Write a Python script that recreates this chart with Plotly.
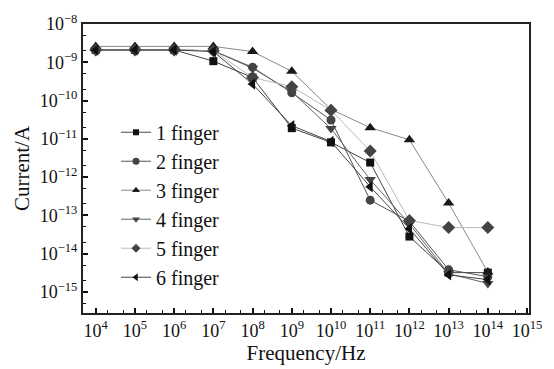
import plotly.graph_objects as go

freq = [1e4, 1e5, 1e6, 1e7, 1e8, 1e9, 1e10, 1e11, 1e12, 1e13, 1e14]
f1 = [2.1e-9, 2.1e-9, 2.1e-9, 1.07e-9, 4.0e-10, 1.9e-11, 8.1e-12, 2.4e-12, 2.8e-14, 3.2e-15, 3.2e-15]
f2 = [2.1e-9, 2.1e-9, 2.1e-9, 2.0e-9, 7.4e-10, 1.6e-10, 3.1e-11, 2.5e-13, 7.0e-14, 3.8e-15, 2.5e-15]
f3 = [2.6e-9, 2.6e-9, 2.6e-9, 2.6e-9, 1.9e-9, 5.8e-10, 5.9e-11, 1.96e-11, 9.4e-12, 2.1e-13, 3.3e-15]
f4 = [2.1e-9, 2.1e-9, 2.1e-9, 2.0e-9, 7.0e-10, 1.7e-10, 1.85e-11, 8.6e-13, 6.0e-14, 3.0e-15, 1.67e-15]
f5 = [2.1e-9, 2.1e-9, 2.1e-9, 2.0e-9, 4.0e-10, 2.3e-10, 5.6e-11, 4.8e-12, 7.4e-14, 4.8e-14, 4.8e-14]
f6 = [2.1e-9, 2.1e-9, 2.1e-9, 1.9e-9, 2.7e-10, 2.2e-11, 8.5e-12, 5.6e-13, 4.5e-14, 2.8e-15, 2.1e-15]

names = ["1 finger", "2 finger", "3 finger", "4 finger", "5 finger", "6 finger"]
series = [f1, f2, f3, f4, f5, f6]
symbols = ["square", "circle", "triangle-up", "triangle-down", "diamond", "triangle-left"]
mcolors = ["#111111", "#444444", "#1a1a1a", "#444444", "#444444", "#111111"]
lcolors = ["#444444", "#555555", "#888888", "#666666", "#bbbbbb", "#444444"]
msizes = [8, 9, 10, 10, 10, 10]
lg_sizes = [6, 7, 7, 7, 7, 7]

xt_exp = list(range(4, 16))
yt_exp = list(range(-15, -7))

FONT = "Liberation Serif, Times New Roman, serif"

fig = go.Figure()
for i, (n, s) in enumerate(zip(names, series)):
    fig.add_trace(go.Scatter(
        x=freq, y=s, name=n, mode="lines+markers",
        legendgroup=n, showlegend=False,
        line=dict(color=lcolors[i], width=1),
        marker=dict(symbol=symbols[i], color=mcolors[i], size=msizes[i]),
    ))
for i, n in enumerate(names):
    fig.add_trace(go.Scatter(
        x=[None], y=[None], name=n, mode="lines+markers",
        legendgroup=n, showlegend=True,
        line=dict(color=lcolors[i], width=1),
        marker=dict(symbol=symbols[i], color=mcolors[i], size=lg_sizes[i]),
    ))

fig.update_layout(
    width=554, height=369,
    margin=dict(l=83, r=16, t=14, b=53),
    paper_bgcolor="white", plot_bgcolor="white",
    font=dict(family=FONT, size=18, color="#111"),
    showlegend=True,
    legend=dict(x=0.074, y=0.693, xanchor="left", yanchor="top",
                bgcolor="rgba(0,0,0,0)", font=dict(size=20, family=FONT),
                traceorder="normal", itemwidth=30),
)
fig.update_xaxes(
    type="log", range=[3.675, 15.05],
    tickvals=[10 ** e for e in xt_exp],
    ticktext=["10<sup>%d</sup>" % e for e in xt_exp],
    ticks="inside", ticklen=5, tickwidth=1.5, tickcolor="#111",
    minor=dict(ticks="inside", ticklen=3, tickwidth=1, tickcolor="#111", showgrid=False),
    showline=True, linewidth=2, linecolor="#222", mirror=True,
    showgrid=False, zeroline=False,
    tickfont=dict(size=18, family=FONT),
    title=dict(text="Frequency/Hz", font=dict(size=21, family=FONT), standoff=2),
)
fig.update_yaxes(
    type="log", range=[-15.55, -8.0],
    tickvals=[10.0 ** e for e in yt_exp],
    ticktext=["10<sup>\u2212%d</sup>" % (-e) for e in yt_exp],
    ticks="inside", ticklen=5, tickwidth=1.5, tickcolor="#111",
    minor=dict(ticks="inside", ticklen=3, tickwidth=1, tickcolor="#111", showgrid=False),
    showline=True, linewidth=2, linecolor="#222", mirror=True,
    showgrid=False, zeroline=False,
    tickfont=dict(size=18, family=FONT),
    title=dict(text="Current/A", font=dict(size=21, family=FONT), standoff=4),
)
fig.write_html("out.html")
